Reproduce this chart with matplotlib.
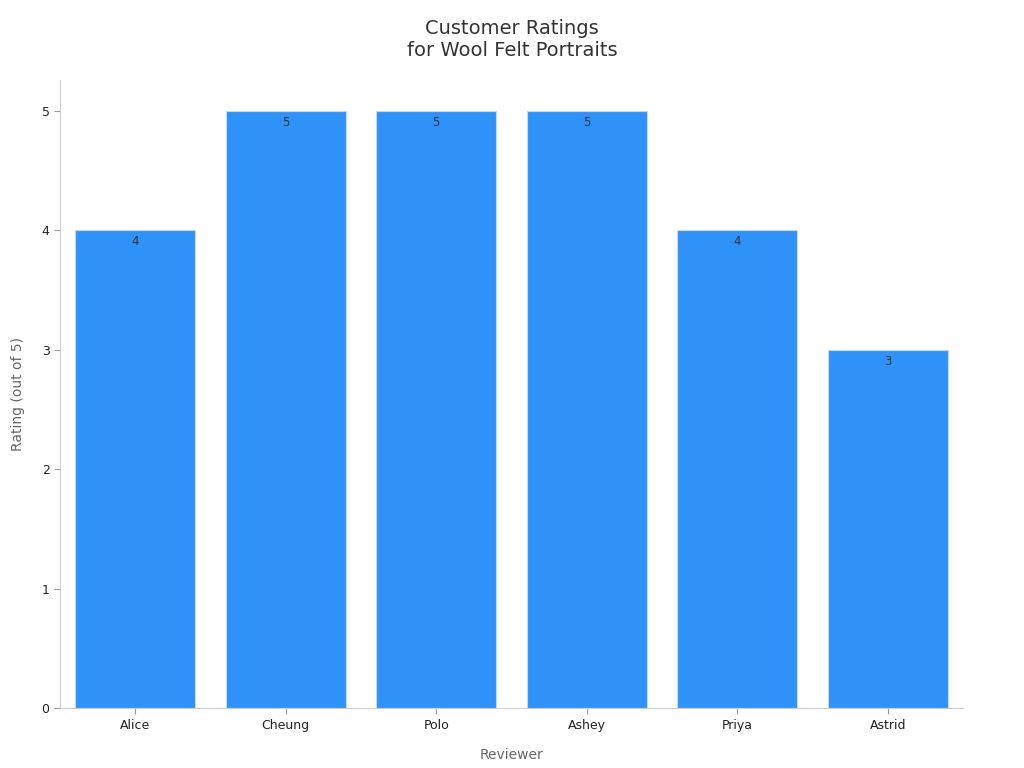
import matplotlib
matplotlib.use('Agg')
import matplotlib.pyplot as plt
import numpy as np

reviewers = ['Alice', 'Cheung', 'Polo', 'Ashey', 'Priya', 'Astrid']
ratings = [4, 5, 5, 5, 4, 3]

fig = plt.figure(figsize=(10.24, 7.68), dpi=100)
ax = fig.add_axes([0.0586, 0.078, 0.8818, 0.818])

x = np.arange(len(reviewers))
ax.bar(x, ratings, width=0.8, color='#2f92f8', edgecolor='#c8d8ea', linewidth=0.8)
for xi, v in zip(x, ratings):
    ax.text(xi, v - 0.04, str(v), ha='center', va='top', fontsize=8.5, color='#333333')

ax.set_xlim(-0.5, 5.5)
ax.set_ylim(0, 5.26)
ax.set_xticks(x)
ax.set_xticklabels(reviewers, fontsize=9, color='#222222')
ax.set_yticks(range(6))
ax.tick_params(axis='y', labelsize=9, colors='#222222')
ax.tick_params(axis='both', color='#999999', length=4)
for s in ['top', 'right']:
    ax.spines[s].set_visible(False)
for s in ['left', 'bottom']:
    ax.spines[s].set_color('#cccccc')

ax.set_xlabel('Reviewer', fontsize=10, color='#666666', labelpad=12)
ax.set_ylabel('Rating (out of 5)', fontsize=10, color='#666666', labelpad=12)
fig.suptitle('Customer Ratings\nfor Wool Felt Portraits', fontsize=14, color='#333333', y=0.975)

fig.savefig('out.png', dpi=100)
